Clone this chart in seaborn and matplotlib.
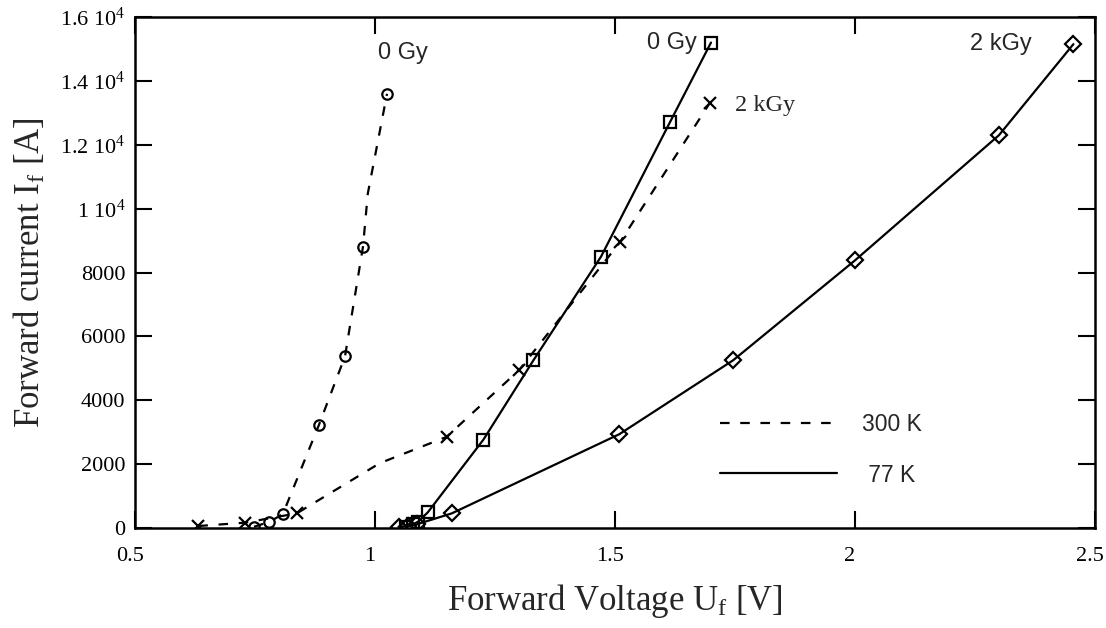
import matplotlib
matplotlib.use("Agg")
import matplotlib.pyplot as plt
import matplotlib.transforms as mtransforms
import seaborn as sns
import pandas as pd
from matplotlib.lines import Line2D

# ---- data ----
v_300_0gy = [0.748, 0.780, 0.808, 0.883, 0.9375, 0.975, 0.985, 1.025]
i_300_0gy = [40, 190, 437, 3220, 5375, 8812, 10470, 13594]
mk_300_0gy = [0, 1, 2, 3, 4, 5, 7]

v_300_2kgy = [0.632, 0.729, 0.837, 1.010, 1.149, 1.300, 1.510, 1.698]
i_300_2kgy = [62, 166, 458, 2030, 2853, 4940, 8940, 13320]
mk_300_2kgy = [0, 1, 2, 4, 5, 6, 7]

v_77_0gy = [1.065, 1.080, 1.090, 1.110, 1.226, 1.330, 1.471, 1.615, 1.700]
i_77_0gy = [40, 125, 200, 490, 2770, 5250, 8500, 12720, 15200]

v_77_2kgy = [1.049, 1.069, 1.087, 1.160, 1.509, 1.746, 2.000, 2.300, 2.455]
i_77_2kgy = [40, 62, 115, 458, 2937, 5250, 8380, 12300, 15150]

x_ticks = [0.5, 1, 1.5, 2, 2.5]
x_tick_labels = ["0.5", "1", "1.5", "2", "2.5"]
y_ticks = [0, 2000, 4000, 6000, 8000, 10000, 12000, 14000, 16000]
y_tick_labels = ["0", "2000", "4000", "6000", "8000",
                 r"1 10$^{\mathrm{4}}$", r"1.2 10$^{\mathrm{4}}$",
                 r"1.4 10$^{\mathrm{4}}$", r"1.6 10$^{\mathrm{4}}$"]

annotations = [("0 Gy", 1.058, 14875, "center", "sans"),
               ("0 Gy", 1.619, 15190, "center", "sans"),
               ("2 kGy", 1.750, 13220, "left", "serif"),
               ("2 kGy", 2.369, 15156, "right", "sans")]
legend_labels = ["300 K", " 77 K"]

# ---- style ----
sns.set_theme(style="ticks")
plt.rcParams["font.family"] = ["Liberation Serif", "DejaVu Serif"]
plt.rcParams["mathtext.fontset"] = "custom"
plt.rcParams["mathtext.rm"] = "Liberation Serif"
plt.rcParams["mathtext.it"] = "Liberation Serif:italic"
plt.rcParams["mathtext.bf"] = "Liberation Serif:bold"

fig = plt.figure(figsize=(11.06, 6.28), dpi=100)
ax = fig.add_axes([135 / 1106, 1 - 528 / 628, 960 / 1106, 511 / 628])

dash = (0, (4.3, 4.8))
series = [
    (v_300_0gy, i_300_0gy, "o", 7.5, dash, mk_300_0gy),
    (v_300_2kgy, i_300_2kgy, "x", 9, dash, mk_300_2kgy),
    (v_77_0gy, i_77_0gy, "s", 8.5, "-", None),
    (v_77_2kgy, i_77_2kgy, "D", 8.5, "-", None),
]
for v, i, m, ms, ls, mk in series:
    df = pd.DataFrame({"U": v, "I": i})
    sns.lineplot(data=df, x="U", y="I", ax=ax, estimator=None, sort=False,
                 color="black", linewidth=1.6, linestyle=ls,
                 marker=m, markersize=ms, markerfacecolor="none",
                 markeredgecolor="black", markeredgewidth=1.6,
                 markevery=mk)

ax.set_xlim(0.5, 2.5)
ax.set_ylim(0, 16000)
ax.set_xticks(x_ticks)
ax.set_xticklabels(x_tick_labels)
ax.set_yticks(y_ticks)
ax.set_yticklabels(y_tick_labels)
ax.tick_params(direction="in", top=True, right=True, length=12, width=1.5,
               labelsize=16, colors="black")
ax.tick_params(axis="x", pad=14)
ax.tick_params(axis="y", pad=7)
shift = mtransforms.ScaledTranslation(-5 / 100, 0, fig.dpi_scale_trans)
for lab in ax.get_xticklabels():
    lab.set_transform(lab.get_transform() + shift)
for s in ax.spines.values():
    s.set_linewidth(1.8)
    s.set_color("black")

ax.set_xlabel(r"Forward Voltage U$_{\mathrm{f}}$ [V]", fontsize=25, labelpad=11)
ax.set_ylabel(r"Forward current I$_{\mathrm{f}}$ [A]", fontsize=25, labelpad=9)

for txt, x, y, ha, fam in annotations:
    family = ["Liberation Sans", "DejaVu Sans"] if fam == "sans" else ["Liberation Serif"]
    ax.text(x, y, txt, ha=ha, va="center", fontsize=17 if fam == "sans" else 17.5,
            family=family)

handles = [Line2D([], [], color="black", lw=1.6, linestyle=dash),
           Line2D([], [], color="black", lw=1.6, linestyle="-")]
ax.legend(handles, legend_labels, loc="upper left",
          bbox_to_anchor=((720 - 135) / 960, (528 - 413) / 511),
          frameon=False, borderpad=0, borderaxespad=0, handlelength=5.1,
          handletextpad=1.1, labelspacing=1.2,
          prop={"family": ["Liberation Sans"], "size": 16.5})

ax.set_facecolor("white")
fig.patch.set_facecolor("white")
fig.savefig("out.png", dpi=100)
